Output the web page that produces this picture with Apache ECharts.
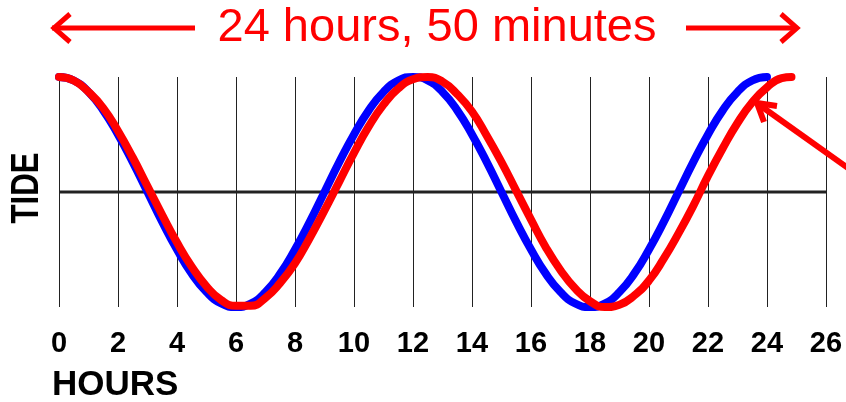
<!DOCTYPE html>
<html>
<head>
<meta charset="utf-8">
<script src="https://cdn.jsdelivr.net/npm/echarts@6/dist/echarts.min.js"></script>
<style>html,body{margin:0;padding:0;background:#fff;}#c{width:846px;height:402px;}</style>
</head>
<body>
<div id="c"></div>
<script>
// Hours sampled for the solar-day (12 h) tide curve
var blueHours = [0,0.5,1,1.5,2,2.5,3,3.5,4,4.5,5,5.5,6,6.5,7,7.5,8,8.5,9,9.5,10,10.5,11,11.5,12,12.5,13,13.5,14,14.5,15,15.5,16,16.5,17,17.5,18,18.5,19,19.5,20,20.5,21,21.5,22,22.5,23,23.5,24];
var blueTide = [1,0.97,0.87,0.71,0.5,0.26,0,-0.26,-0.5,-0.71,-0.87,-0.97,-1,-0.97,-0.87,-0.71,-0.5,-0.26,0,0.26,0.5,0.71,0.87,0.97,1,0.97,0.87,0.71,0.5,0.26,0,-0.26,-0.5,-0.71,-0.87,-0.97,-1,-0.97,-0.87,-0.71,-0.5,-0.26,0,0.26,0.5,0.71,0.87,0.97,1];
// Hours sampled for the lunar-day (24 h 50 min) tide curve
var redHours = [0,0.5,1,1.5,2,2.5,3,3.5,4,4.5,5,5.5,6,6.5,7,7.5,8,8.5,9,9.5,10,10.5,11,11.5,12,12.5,13,13.5,14,14.5,15,15.5,16,16.5,17,17.5,18,18.5,19,19.5,20,20.5,21,21.5,22,22.5,23,23.5,24,24.5,24.83];
var redTide = [1,0.97,0.87,0.73,0.53,0.3,0.05,-0.2,-0.44,-0.65,-0.82,-0.94,-0.99,-0.99,-0.92,-0.79,-0.62,-0.4,-0.16,0.09,0.34,0.57,0.76,0.9,0.98,1,0.96,0.85,0.7,0.49,0.26,0.01,-0.24,-0.48,-0.68,-0.84,-0.95,-1,-0.98,-0.9,-0.77,-0.58,-0.36,-0.12,0.14,0.38,0.6,0.78,0.91,0.99,1];
var zeroHours = [0, 26];
var zeroTide = [0, 0];
var xTicks = [0,2,4,6,8,10,12,14,16,18,20,22,24,26];
var titleText = '24 hours, 50 minutes';
var xName = 'HOURS';
var yName = 'TIDE';

function pairs(xs, ys){ return xs.map(function(x,i){ return [x, ys[i]]; }); }

var FONT = "'Liberation Sans', Arial, sans-serif";
var chart = echarts.init(document.getElementById('c'), null, {renderer:'canvas'});
chart.setOption({
  backgroundColor: '#ffffff',
  animation: false,
  grid: {left: 59, right: 20, top: 77, bottom: 95},
  xAxis: {
    type: 'value', min: 0, max: 26, interval: 2,
    axisLine: {show: false}, axisTick: {show: false},
    axisLabel: {
      margin: 22, color: '#000', fontFamily: FONT, fontWeight: 'bold', fontSize: 29,
      showMinLabel: true, showMaxLabel: true,
      formatter: function(v){ return xTicks.indexOf(v) >= 0 ? String(v) : ''; }
    },
    splitLine: {show: true, showMinLine: true, showMaxLine: true, lineStyle: {color: '#222', width: 1}}
  },
  yAxis: {
    type: 'value', min: -1, max: 1,
    axisLine: {show: false}, axisTick: {show: false}, axisLabel: {show: false},
    splitLine: {show: false}
  },
  series: [
    {type: 'line', data: pairs(zeroHours, zeroTide), showSymbol: false, symbol: 'none', z: 1,
     lineStyle: {color: '#222', width: 3}, silent: true},
    {type: 'line', data: pairs(blueHours, blueTide), smooth: true, showSymbol: false, symbol: 'none', z: 2,
     lineStyle: {color: '#0000ff', width: 8, cap: 'round', join: 'round'}},
    {type: 'line', data: pairs(redHours, redTide), smooth: true, showSymbol: false, symbol: 'none', z: 3,
     lineStyle: {color: '#ff0000', width: 8, cap: 'round', join: 'round'}}
  ],
  graphic: [
    {type: 'text', x: 437, y: 28, z: 10,
     style: {text: titleText, fill: '#ff0000', font: 'normal 47px ' + FONT, align: 'center', verticalAlign: 'middle'}},
    {type: 'polyline', z: 10, shape: {points: [[52,28],[195,28]]}, style: {stroke: '#ff0000', lineWidth: 5, fill: null}},
    {type: 'polyline', z: 10, shape: {points: [[70,14],[54,28],[70,42]]}, style: {stroke: '#ff0000', lineWidth: 5, fill: null, lineJoin: 'miter'}},
    {type: 'polyline', z: 10, shape: {points: [[686,28],[797,28]]}, style: {stroke: '#ff0000', lineWidth: 5, fill: null}},
    {type: 'polyline', z: 10, shape: {points: [[781,14],[797,28],[781,42]]}, style: {stroke: '#ff0000', lineWidth: 5, fill: null, lineJoin: 'miter'}},
    {type: 'polyline', z: 10, shape: {points: [[848,168],[758,104]]}, style: {stroke: '#ff0000', lineWidth: 6, fill: null}},
    {type: 'polyline', z: 10, shape: {points: [[777,106],[757,103],[764,122]]}, style: {stroke: '#ff0000', lineWidth: 6, fill: null, lineJoin: 'miter'}},
    {type: 'text', x: 28, y: 188, rotation: Math.PI/2, scaleX: 0.82, z: 10,
     style: {text: yName, fill: '#000', font: 'bold 38px ' + FONT, align: 'center', verticalAlign: 'middle'}},
    {type: 'text', x: 52, y: 385, z: 10,
     style: {text: xName, fill: '#000', font: 'bold 35px ' + FONT, align: 'left', verticalAlign: 'middle'}}
  ]
});
</script>
</body>
</html>
